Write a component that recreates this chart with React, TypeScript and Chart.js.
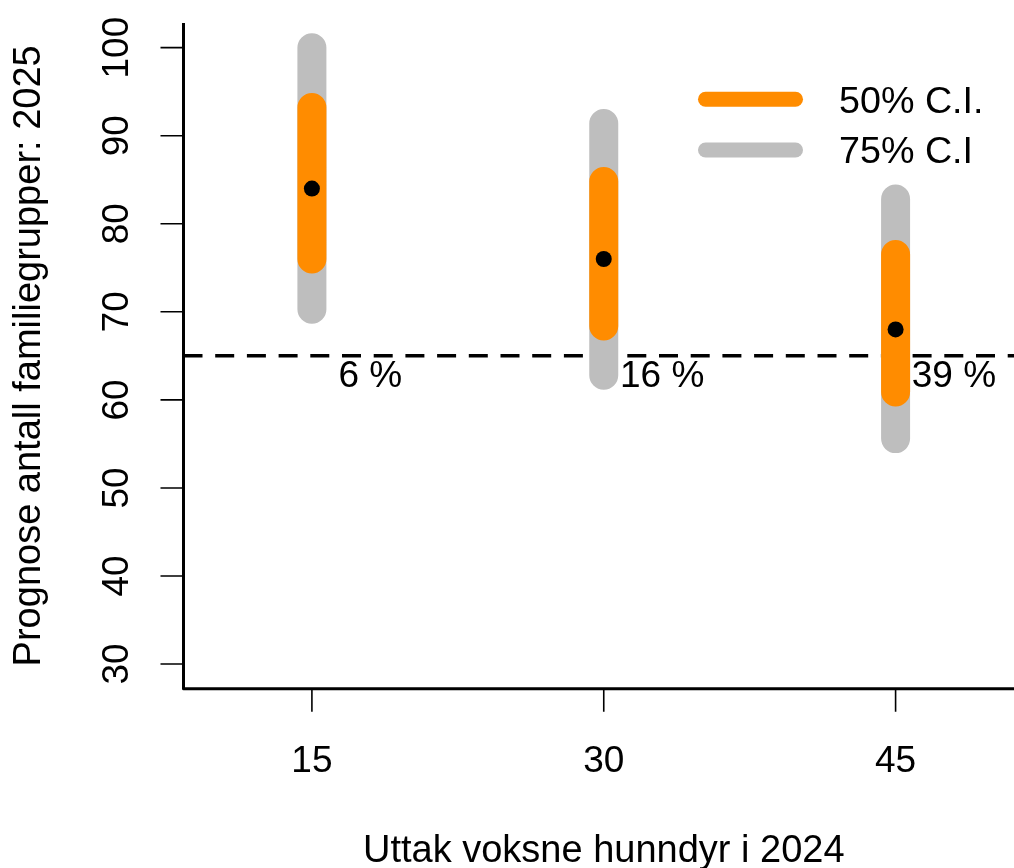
import React, { useEffect, useRef } from "react";
import { Chart, registerables } from "chart.js";

Chart.register(...registerables);

// ---- data ----
const removals = [15, 30, 45];
const medians = [84, 76, 68];
const ci50Low = [76.0, 68.4, 60.9];
const ci50High = [93.2, 84.8, 76.5];
const ci75Low = [70.3, 62.8, 55.6];
const ci75High = [100.0, 91.4, 82.8];
const threshold = 65;
const probLabels = ["6 %", "16 %", "39 %"];
const xTicks = [15, 30, 45];
const yTicks = [30, 40, 50, 60, 70, 80, 90, 100];
const xLimits = [10, 50];
const yLimits = [30, 100];
const legendLabels = ["50% C.I.", "75% C.I"];
const xTitle = "Uttak voksne hunndyr i 2024";
const yTitle = "Prognose antall familiegrupper: 2025";

// ---- styling constants ----
const ORANGE = "#FF8C00";
const GRAY = "#BEBEBE";
const FAMILY = '"Liberation Sans", Arial, Helvetica, sans-serif';
const FONT = `37px ${FAMILY}`;
const TITLE_FONT = `38px ${FAMILY}`;
const LEGEND_FONT = `37.7px ${FAMILY}`;
const LABEL_DX = 3; // percent label offset along x (data units)
const LABEL_Y = 63; // percent label height (data units)

const expand = (lim: number[]) => {
  const d = (lim[1] - lim[0]) * 0.04;
  return [lim[0] - d, lim[1] + d];
};
const [xMin, xMax] = expand(xLimits);
const [yMin, yMax] = expand(yLimits);

const segments = (lo: number[], hi: number[]) =>
  removals.flatMap((x, i) => [
    { x, y: lo[i] },
    { x, y: hi[i] },
    { x, y: null as any },
  ]);

const decorPlugin = {
  id: "decor",
  afterDraw(chart: any) {
    const ctx = chart.ctx as CanvasRenderingContext2D;
    const { left, right, top, bottom } = chart.chartArea;
    const xs = chart.scales.x;
    const ys = chart.scales.y;
    ctx.save();
    ctx.strokeStyle = "#000";
    ctx.fillStyle = "#000";

    // L-shaped box
    ctx.lineWidth = 3;
    ctx.lineJoin = "round";
    ctx.lineCap = "butt";
    ctx.beginPath();
    ctx.moveTo(left, top);
    ctx.lineTo(left, bottom);
    ctx.lineTo(right, bottom);
    ctx.stroke();

    // tick marks
    ctx.lineWidth = 1.6;
    ctx.beginPath();
    yTicks.forEach((v) => {
      const py = ys.getPixelForValue(v);
      ctx.moveTo(left - 23, py);
      ctx.lineTo(left, py);
    });
    xTicks.forEach((v) => {
      const px = xs.getPixelForValue(v);
      ctx.moveTo(px, bottom);
      ctx.lineTo(px, bottom + 23);
    });
    ctx.stroke();

    // tick labels
    ctx.font = FONT;
    ctx.textAlign = "center";
    ctx.textBaseline = "alphabetic";
    xTicks.forEach((v) => {
      ctx.fillText(String(v), xs.getPixelForValue(v), bottom + 83);
    });
    yTicks.forEach((v) => {
      ctx.save();
      ctx.translate(left - 55.5, ys.getPixelForValue(v));
      ctx.rotate(-Math.PI / 2);
      ctx.fillText(String(v), 0, 0);
      ctx.restore();
    });

    // probability labels
    removals.forEach((x, i) => {
      ctx.fillText(
        probLabels[i],
        xs.getPixelForValue(x + LABEL_DX),
        ys.getPixelForValue(LABEL_Y) + 13.3
      );
    });

    // axis titles
    ctx.font = TITLE_FONT;
    ctx.fillText(xTitle, (left + right) / 2, bottom + 173);
    ctx.save();
    ctx.translate(left - 143.5, (top + bottom) / 2);
    ctx.rotate(-Math.PI / 2);
    ctx.fillText(yTitle, 0, 0);
    ctx.restore();

    // legend
    ctx.font = LEGEND_FONT;
    const legendColors = [ORANGE, GRAY];
    const legendY = [99.3, 150];
    ctx.lineWidth = 15;
    ctx.lineCap = "round";
    legendLabels.forEach((lab, i) => {
      ctx.strokeStyle = legendColors[i];
      ctx.beginPath();
      ctx.moveTo(705.5, legendY[i]);
      ctx.lineTo(795.5, legendY[i]);
      ctx.stroke();
      ctx.textAlign = "left";
      ctx.fillText(lab, 839, legendY[i] + 13.3);
    });

    ctx.restore();
  },
};

export default function App() {
  const canvasRef = useRef<HTMLCanvasElement | null>(null);

  useEffect(() => {
    if (!canvasRef.current) return;
    const chart = new Chart(canvasRef.current, {
      type: "line",
      data: {
        datasets: [
          {
            label: "threshold",
            data: [
              { x: xMin, y: threshold },
              { x: xMax, y: threshold },
            ],
            borderColor: "#000",
            borderWidth: 3.5,
            borderDash: [19, 12.7],
            borderCapStyle: "butt",
            pointRadius: 0,
            order: 4,
          },
          {
            label: legendLabels[1],
            data: segments(ci75Low, ci75High),
            borderColor: GRAY,
            borderWidth: 29,
            borderCapStyle: "round",
            pointRadius: 0,
            spanGaps: false,
            order: 3,
          },
          {
            label: legendLabels[0],
            data: segments(ci50Low, ci50High),
            borderColor: ORANGE,
            borderWidth: 29,
            borderCapStyle: "round",
            pointRadius: 0,
            spanGaps: false,
            order: 2,
          },
          {
            label: "median",
            data: removals.map((x, i) => ({ x, y: medians[i] })),
            showLine: false,
            pointRadius: 8,
            pointBackgroundColor: "#000",
            pointBorderColor: "#000",
            pointBorderWidth: 0,
            order: 1,
          },
        ] as any,
      },
      options: {
        responsive: false,
        animation: false,
        devicePixelRatio: 1,
        layout: {
          autoPadding: false,
          padding: { left: 183.5, top: 23, right: 0, bottom: 179.3 },
        },
        scales: {
          x: { type: "linear", min: xMin, max: xMax, display: false },
          y: { type: "linear", min: yMin, max: yMax, display: false },
        },
        plugins: {
          legend: { display: false },
          tooltip: { enabled: false },
        },
        events: [],
      },
      plugins: [decorPlugin],
    });
    return () => chart.destroy();
  }, []);

  return (
    <div
      style={{
        position: "fixed",
        left: 0,
        top: 0,
        width: 1014,
        height: 868,
        overflow: "hidden",
        background: "#fff",
      }}
    >
      <div style={{ position: "relative", width: 1024, height: 868 }}>
        <canvas
          ref={canvasRef}
          width={1024}
          height={868}
          style={{ width: 1024, height: 868, display: "block" }}
        />
      </div>
    </div>
  );
}
